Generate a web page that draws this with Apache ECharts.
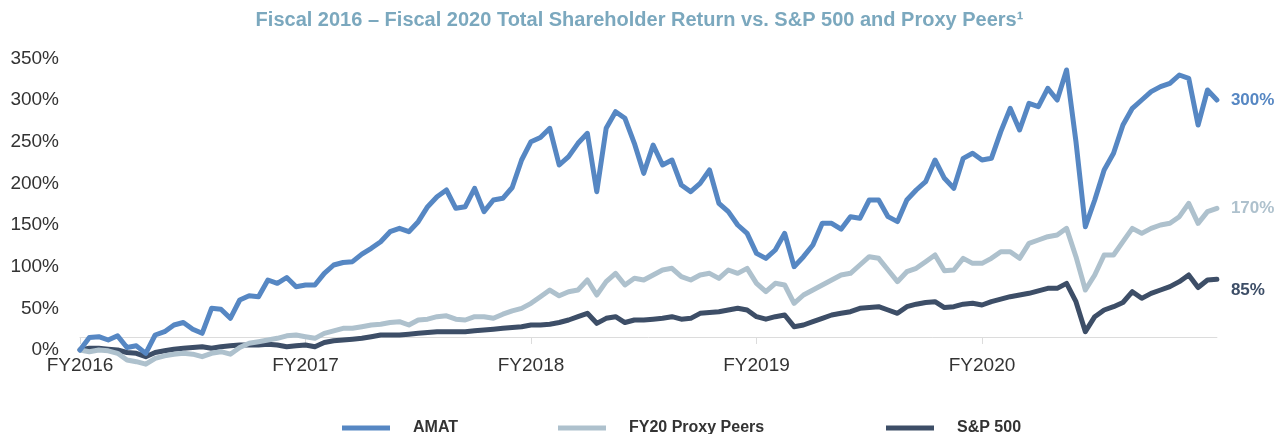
<!DOCTYPE html>
<html>
<head>
<meta charset="utf-8">
<title>TSR vs S&amp;P 500 and Proxy Peers</title>
<script src="https://cdn.jsdelivr.net/npm/echarts@6/dist/echarts.min.js"></script>
<style>
    html, body { margin: 0; padding: 0; background: #fff; }
    #chart { width: 1279px; height: 434px; }
</style>
</head>
<body>
<div id="chart"></div>
<script>
    // cumulative total return in %, sampled twice a month from start of FY2016
    const fiscalYears = ['FY2016', 'FY2017', 'FY2018', 'FY2019', 'FY2020'];
    const seriesNames = ['AMAT', 'FY20 Proxy Peers', 'S&P 500'];
    const endLabels = ['300%', '170%', '85%'];
    const colors = ['#5687c3', '#aec1cd', '#3d4e67'];
    const pointsPerYear = 24;

    const amat = [
        0, 15, 16, 12, 17, 3, 5, -4, 18, 22, 30, 33, 25, 20, 50, 49, 38, 60, 65, 64,
        84, 80, 87, 76, 78, 78, 92, 102, 105, 106, 115, 122, 130, 142, 146, 142, 154, 172, 184, 192,
        170, 172, 194, 166, 180, 182, 195, 228, 250, 255, 266, 222, 232, 248, 260, 190, 266, 286, 278, 248,
        212, 246, 222, 228, 198, 190, 200, 216, 176, 166, 150, 140, 116, 110, 120, 140, 100, 112, 126, 152,
        152, 145, 160, 158, 180, 180, 160, 154, 180, 192, 202, 228, 206, 194, 230, 236, 228, 230, 262, 290,
        264, 296, 292, 314, 300, 336, 250, 148, 180, 216, 236, 270, 290, 300, 310, 316, 320, 330, 326, 270,
        312, 300
    ];
    const proxyPeers = [
        0, -2, 0, -1, -4, -12, -14, -17, -10, -7, -5, -4, -5, -8, -4, -2, -5, 3, 8, 10,
        12, 14, 17, 18, 16, 14, 20, 23, 26, 26, 28, 30, 31, 33, 34, 30, 36, 37, 40, 41,
        37, 36, 40, 40, 38, 43, 47, 50, 56, 64, 72, 65, 70, 72, 84, 66, 82, 92, 78, 86,
        84, 90, 96, 98, 88, 84, 90, 92, 86, 96, 92, 98, 80, 70, 80, 78, 56, 66, 72, 78,
        84, 90, 92, 102, 112, 110, 96, 82, 94, 98, 106, 114, 95, 96, 110, 104, 104, 110, 118, 118,
        110, 128, 132, 136, 138, 146, 112, 72, 90, 114, 114, 130, 146, 140, 146, 150, 152, 160, 176, 152,
        166, 170
    ];
    const sp500 = [
        0, 2, 2, 1, 0, -3, -4, -8, -3, -1, 1, 2, 3, 4, 2, 4, 5, 6, 6, 6,
        7, 6, 4, 5, 6, 4, 9, 11, 12, 13, 14, 16, 18, 18, 18, 19, 20, 21, 22, 22,
        22, 22, 23, 24, 25, 26, 27, 28, 30, 30, 31, 33, 36, 40, 44, 32, 38, 40, 33, 36,
        36, 37, 38, 40, 37, 38, 44, 45, 46, 48, 50, 48, 40, 37, 40, 42, 28, 30, 34, 38,
        42, 44, 46, 50, 51, 52, 48, 44, 52, 55, 57, 58, 51, 52, 55, 56, 54, 58, 61, 64,
        66, 68, 71, 74, 74, 80, 58, 22, 40, 48, 52, 57, 70, 62, 68, 72, 76, 82, 90, 75,
        84, 85
    ];

    const fontFamily = '"Liberation Sans", Arial, sans-serif';
    const toPairs = (arr) => arr.map((v, i) => [i / pointsPerYear, v]);
    const lastX = (amat.length - 1) / pointsPerYear;

    function makeSeries(idx, data, labelOffset) {
        return {
            name: seriesNames[idx],
            type: 'line',
            data: toPairs(data),
            showSymbol: false,
            symbol: 'none',
            clip: false,
            lineStyle: { width: 5, color: colors[idx], join: 'round', cap: 'round' },
            itemStyle: { color: colors[idx] },
            endLabel: {
                show: true,
                formatter: endLabels[idx],
                color: colors[idx],
                fontFamily: fontFamily,
                fontWeight: 'bold',
                fontSize: 17,
                distance: 14,
                offset: labelOffset
            }
        };
    }

    function legendAt(idx, left) {
        return {
            data: [seriesNames[idx]],
            left: left,
            top: 415,
            icon: 'rect',
            itemWidth: 48,
            itemHeight: 5,
            textStyle: {
                fontFamily: fontFamily,
                fontWeight: 'bold',
                fontSize: 16,
                color: '#333',
                padding: [0, 0, 0, 18]
            },
            selectedMode: false
        };
    }

    const chart = echarts.init(document.getElementById('chart'));
    const option = {
        animation: false,
        title: {
            text: 'Fiscal 2016 \u2013 Fiscal 2020 Total Shareholder Return vs. S&P 500 and Proxy Peers\u00b9',
            left: 'center',
            top: 5,
            textStyle: {
                fontFamily: fontFamily,
                fontWeight: 'bold',
                fontSize: 20,
                color: '#7ba8be'
            }
        },
        legend: [legendAt(0, 337), legendAt(1, 553), legendAt(2, 881)],
        grid: {
            left: 80,
            right: 1279 - 80 - lastX * 225.5,
            top: 58.33,
            bottom: 42.33,
            containLabel: false
        },
        xAxis: {
            type: 'value',
            min: 0,
            max: lastX,
            interval: 1,
            offset: -54.67,
            splitLine: { show: false },
            axisLine: { show: true, lineStyle: { color: '#dcdcdc', width: 1 } },
            axisTick: {
                show: true,
                length: 7,
                lineStyle: { color: '#dcdcdc' },
                customValues: [0, 1, 2, 3, 4]
            },
            axisLabel: {
                customValues: [0, 1, 2, 3, 4],
                formatter: (v) => fiscalYears[Math.round(v)] || '',
                margin: 19,
                fontFamily: fontFamily,
                fontSize: 19,
                color: '#333'
            }
        },
        yAxis: {
            type: 'value',
            min: -50,
            max: 350,
            interval: 50,
            splitLine: { show: false },
            axisLine: { show: false },
            axisTick: { show: false },
            axisLabel: {
                formatter: (v) => (v < 0 ? '' : v + '%'),
                margin: 21,
                fontFamily: fontFamily,
                fontSize: 19,
                color: '#333'
            }
        },
        series: [
            makeSeries(2, sp500, [0, 11]),
            makeSeries(1, proxyPeers, [0, 0]),
            makeSeries(0, amat, [0, 0])
        ]
    };
    chart.setOption(option);
</script>
</body>
</html>
